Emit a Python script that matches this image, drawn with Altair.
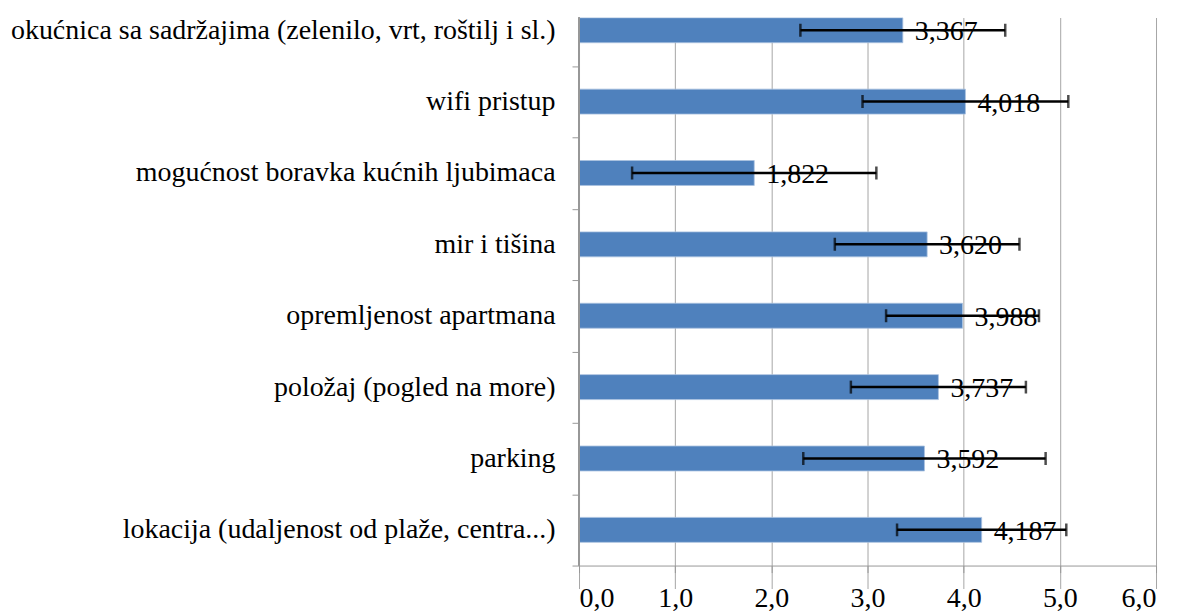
import altair as alt
import pandas as pd

categories = [
    "okućnica sa sadržajima (zelenilo, vrt, roštilj i sl.)",
    "wifi pristup",
    "mogućnost boravka kućnih ljubimaca",
    "mir i tišina",
    "opremljenost apartmana",
    "položaj (pogled na more)",
    "parking",
    "lokacija (udaljenost od plaže, centra...)",
]
means = [3.367, 4.018, 1.822, 3.620, 3.988, 3.737, 3.592, 4.187]
errors = [1.065, 1.07, 1.27, 0.96, 0.795, 0.91, 1.26, 0.88]
x_ticks = [0, 1, 2, 3, 4, 5, 6]

df = pd.DataFrame({"cat": categories, "mean": means, "err": errors})
df["lo"] = df["mean"] - df["err"]
df["hi"] = df["mean"] + df["err"]
df["label"] = [f"{v:.3f}".replace(".", ",") for v in means]

FONT = "Liberation Serif, Times New Roman, serif"
FS = 28
H = 549
STEP = 71.5
AXIS_GRAY = "#999999"

yscale = alt.Scale(domain=categories, range=[H - 8 * STEP, H],
                   paddingInner=0, paddingOuter=0)
xscale = alt.Scale(domain=[0, 6], nice=False, zero=True)

y_enc = alt.Y("cat:N", sort=categories, scale=yscale,
              axis=alt.Axis(title=None, labelFont=FONT, labelFontSize=FS, labelColor="black",
                            labelLimit=600, tickBand="extent", tickSize=7, tickColor=AXIS_GRAY,
                            domain=False, labelPadding=17, grid=False))
x_enc = alt.X("mean:Q", scale=xscale,
              axis=alt.Axis(title=None, values=x_ticks, labelFont=FONT, labelFontSize=FS,
                            labelColor="black", tickSize=7, tickColor=AXIS_GRAY,
                            domainColor=AXIS_GRAY, gridColor="#A6A6A6", gridWidth=1,
                            labelPadding=12,
                            labelExpr="replace(format(datum.value, '.1f'), '.', ',')"))

bars = alt.Chart(df).mark_bar(color="#4F81BD", stroke="#a9c1e0", strokeWidth=0.8,
                              size=25, clip=True).encode(x=x_enc, y=y_enc)

yaxis_line = alt.Chart(df).mark_rule(color=AXIS_GRAY, strokeWidth=1).encode(
    x=alt.value(0), y=alt.value(0), y2=alt.value(H))

rule = alt.Chart(df).mark_rule(color="black", strokeWidth=2.5, clip=True).encode(
    x=alt.X("lo:Q", scale=xscale), x2="hi:Q", y=alt.Y("cat:N", sort=categories, scale=yscale))
cap_lo = alt.Chart(df).mark_tick(color="black", thickness=2.5, size=13, clip=True).encode(
    x=alt.X("lo:Q", scale=xscale), y=alt.Y("cat:N", sort=categories, scale=yscale))
cap_hi = alt.Chart(df).mark_tick(color="black", thickness=2.5, size=13, clip=True).encode(
    x=alt.X("hi:Q", scale=xscale), y=alt.Y("cat:N", sort=categories, scale=yscale))

labels = alt.Chart(df).mark_text(align="left", baseline="middle", dx=12, dy=2,
                                 font=FONT, fontSize=FS, color="black").encode(
    x=alt.X("mean:Q", scale=xscale), y=alt.Y("cat:N", sort=categories, scale=yscale),
    text="label:N")

chart = alt.layer(bars, yaxis_line, rule, cap_lo, cap_hi, labels).properties(
    width=578, height=H,
    autosize=alt.AutoSizeParams(type="none"),
    padding={"left": 572, "top": 9, "right": 14, "bottom": 46},
).configure_view(stroke=None).configure_axisY(grid=False)

chart.save("out.html", embed_options={"renderer": "svg", "actions": False})
